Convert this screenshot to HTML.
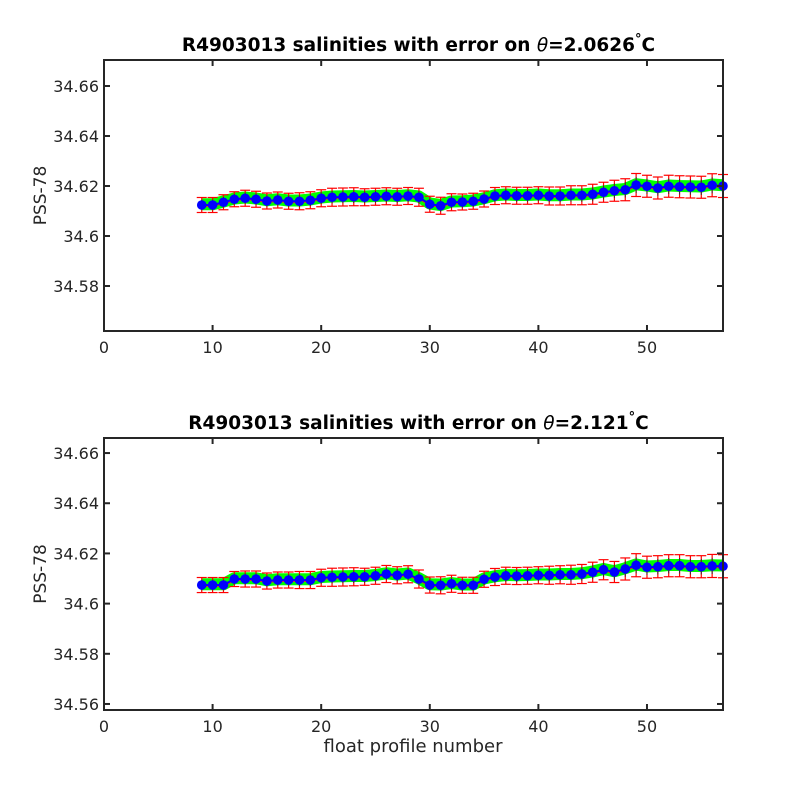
<!DOCTYPE html>
<html><head><meta charset="utf-8"><style>
body{margin:0;background:#fff;}
svg{font-family:"DejaVu Sans","Liberation Sans",sans-serif;}
</style></head><body>
<svg id="chart" width="800" height="800" xmlns="http://www.w3.org/2000/svg">
<rect width="800" height="800" fill="#fff"/>
</svg>
<script>
const profiles = [9,10,11,12,13,14,15,16,17,18,19,20,21,22,23,24,25,26,27,28,29,30,31,32,33,34,35,36,37,38,39,40,41,42,43,44,45,46,47,48,49,50,51,52,53,54,55,56,57];
const salTop = [34.6124,34.6124,34.6135,34.6147,34.6151,34.6147,34.614,34.6144,34.6139,34.6139,34.6143,34.6151,34.6155,34.6156,34.6157,34.6155,34.6157,34.6159,34.6157,34.616,34.6155,34.6127,34.6121,34.6135,34.6136,34.6139,34.6148,34.616,34.6163,34.6161,34.6161,34.6163,34.616,34.616,34.6163,34.6163,34.6167,34.6175,34.6181,34.6185,34.6204,34.6199,34.6192,34.6199,34.6197,34.6196,34.6195,34.6203,34.62];
const salBot = [34.6074,34.6074,34.6074,34.6098,34.6098,34.6098,34.609,34.6094,34.6094,34.6094,34.6094,34.6103,34.6105,34.6106,34.6107,34.6107,34.6111,34.6118,34.6113,34.6117,34.6098,34.6074,34.6073,34.6079,34.6073,34.6073,34.6097,34.6106,34.6111,34.611,34.6111,34.6113,34.6113,34.6115,34.6115,34.6118,34.6125,34.6135,34.6126,34.6138,34.6153,34.6145,34.6147,34.6151,34.6151,34.6147,34.6147,34.615,34.6149];
const errTop = [0.003,0.003,0.003,0.003,0.0032,0.0032,0.0032,0.0032,0.0032,0.0034,0.0034,0.0034,0.0036,0.0036,0.0036,0.0034,0.0034,0.0034,0.0034,0.0034,0.0036,0.0032,0.0034,0.0034,0.0032,0.0032,0.0032,0.0034,0.0034,0.0034,0.0034,0.0034,0.0036,0.0036,0.0038,0.0038,0.004,0.004,0.0042,0.0044,0.0046,0.0044,0.0044,0.0044,0.0044,0.0044,0.0044,0.0046,0.0046];
const errBot = [0.003,0.003,0.003,0.003,0.0032,0.0032,0.0032,0.0032,0.0032,0.0034,0.0034,0.0034,0.0036,0.0036,0.0036,0.0034,0.0034,0.0034,0.0034,0.0034,0.0036,0.0032,0.0034,0.0034,0.0032,0.0032,0.0032,0.0034,0.0034,0.0034,0.0034,0.0034,0.0036,0.0036,0.0038,0.0038,0.004,0.004,0.0042,0.0044,0.0046,0.0044,0.0044,0.0044,0.0044,0.0044,0.0044,0.0046,0.0046];
const xTicks = [0,10,20,30,40,50];
const yTicksTop = [34.58,34.6,34.62,34.64,34.66];
const yTicksBot = [34.56,34.58,34.6,34.62,34.64,34.66];
const xTickLabels = ["0","10","20","30","40","50"];
const yLabelsTop = ["34.58","34.6","34.62","34.64","34.66"];
const yLabelsBot = ["34.56","34.58","34.6","34.62","34.64","34.66"];

const NS="http://www.w3.org/2000/svg";
const svg=document.getElementById('chart');
function mk(tag,attrs,parent){const e=document.createElementNS(NS,tag);for(const k in attrs)e.setAttribute(k,attrs[k]);(parent||svg).appendChild(e);return e;}

function panel(cfg){
  const g=mk('g',{});
  
  
  const L=104,R=723,T=cfg.top,B=cfg.bottom;
  const xs=v=>L+(v-0)/(57-0)*(R-L);
  const ys=v=>B-(v-cfg.ymin)/(cfg.ymax-cfg.ymin)*(B-T);
  const band=mk('polyline',{points:profiles.map((p,i)=>xs(p)+','+ys(cfg.sal[i]+0.0003)).join(' '),fill:'none',stroke:'#00ff00','stroke-width':12,'stroke-linejoin':'round'},g);
  
  
  const red=mk('polyline',{points:profiles.map((p,i)=>xs(p)+','+ys(cfg.sal[i]-0.0004)).join(' '),fill:'none',stroke:'#e03020','stroke-width':2},g);
  
  
  profiles.forEach((p,i)=>{
    const x=xs(p),y1=ys(cfg.sal[i]+cfg.err[i]),y2=ys(cfg.sal[i]-cfg.err[i]);
    const eb=mk('g',{stroke:'#ff0000','stroke-width':1.2},g);
    
    
    mk('line',{x1:x,x2:x,y1:y1,y2:y2},eb);
    mk('line',{x1:x-5,x2:x+5,y1:y1,y2:y1},eb);
    mk('line',{x1:x-5,x2:x+5,y1:y2,y2:y2},eb);
    const bl=mk('line',{x1:x,x2:x,y1:ys(cfg.sal[i]+cfg.err[i]*0.7),y2:ys(cfg.sal[i]-cfg.err[i]*0.7),stroke:'#333','stroke-width':1},g);
    
    
  });
  const line=mk('polyline',{points:profiles.map((p,i)=>xs(p)+','+ys(cfg.sal[i])).join(' '),fill:'none',stroke:'#0000ff','stroke-width':2},g);
  
  
  profiles.forEach((p,i)=>{
    const c=mk('circle',{cx:xs(p),cy:ys(cfg.sal[i]),r:4.8,fill:'#0000ff'},g);
    
    
  });
  const box=mk('rect',{x:L,y:T,width:R-L,height:B-T,fill:'none',stroke:'#262626','stroke-width':2},g);
  
  
  xTicks.forEach((t,i)=>{
    const x=xs(t);
    mk('line',{x1:x,x2:x,y1:B,y2:B-6,stroke:'#262626','stroke-width':2},g);
    mk('line',{x1:x,x2:x,y1:T,y2:T+6,stroke:'#262626','stroke-width':2},g);
    const tx=mk('text',{x:x,y:B+22,'text-anchor':'middle','font-size':16,fill:'#262626'},g);
    tx.textContent=xTickLabels[i];
    
    
  });
  cfg.yt.forEach((t,i)=>{
    const y=ys(t);
    mk('line',{x1:L,x2:L+6,y1:y,y2:y,stroke:'#262626','stroke-width':2},g);
    mk('line',{x1:R,x2:R-6,y1:y,y2:y,stroke:'#262626','stroke-width':2},g);
    const ty=mk('text',{x:L-5,y:y+6,'text-anchor':'end','font-size':16,fill:'#262626'},g);
    ty.textContent=cfg.yl[i];
    
    
  });
  const yl=mk('text',{x:0,y:0,'text-anchor':'middle','font-size':17,fill:'#262626',transform:`translate(46,${(T+B)/2}) rotate(-90)`},g);
  yl.textContent='PSS-78';
  
  
  const ti=mk('text',{x:(L+R)/2+5,y:T-9,'text-anchor':'middle','font-size':18.5,'font-weight':'bold',fill:'#000'},g);
  ti.innerHTML='R4903013 salinities with error on <tspan font-style="italic" font-weight="normal">θ</tspan>='+cfg.theta+'<tspan dy="-8" font-size="13">°</tspan><tspan dy="8">C</tspan>';
  
  
}
panel({name:'top-panel',top:60,bottom:331,ymin:34.562,ymax:34.6704,sal:salTop,err:errTop,yt:yTicksTop,yl:yLabelsTop,theta:'2.0626'});
panel({name:'bottom-panel',top:438,bottom:710,ymin:34.5576,ymax:34.666,sal:salBot,err:errBot,yt:yTicksBot,yl:yLabelsBot,theta:'2.121'});
const xl=mk('text',{x:413,y:752,'text-anchor':'middle','font-size':18,fill:'#262626'});
xl.textContent='float profile number';


</script>
</body></html>
